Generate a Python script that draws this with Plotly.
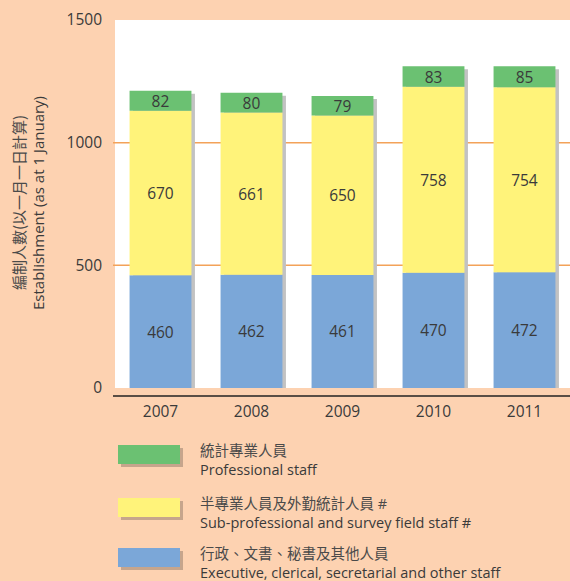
import plotly.graph_objects as go

years = ["2007", "2008", "2009", "2010", "2011"]
professional = [82, 80, 79, 83, 85]
sub_professional = [670, 661, 650, 758, 754]
executive = [460, 462, 461, 470, 472]

legend_zh = ["統計專業人員", "半專業人員及外勤統計人員 #", "行政、文書、秘書及其他人員"]
legend_en = ["Professional staff", "Sub-professional and survey field staff #",
             "Executive, clerical, secretarial and other staff"]
ytitle_zh = "編制人數(以一月一日計算)"
ytitle_en = "Establishment (as at 1 January)"

W, H = 570, 581
L, R, T, B = 115, 0, 20, 193
PW = W - L - R
PH = H - T - B
YMAX = 1500

GREEN = "#6BC172"
YELLOW = "#FFF37A"
BLUE = "#7BA7D8"
BG = "#FDD2B1"
TXT = "#3a3a3a"
FONT = "Open Sans, Noto Sans CJK TC, sans-serif"
FONT_ZH = "Noto Sans CJK TC, sans-serif"


def px_x(px):
    return (px - L) / PW


def px_y(py):
    return (H - B - py) / PH


totals = [a + b + c for a, b, c in zip(executive, sub_professional, professional)]
base_sub = executive
base_pro = [a + b for a, b in zip(executive, sub_professional)]

BW = 0.68
shadow_dx = 3.5 / (PW / len(years))
shadow_dy = 3 * YMAX / PH

fig = go.Figure()
# shadows
fig.add_trace(go.Bar(
    x=years, y=[t - shadow_dy for t in totals], base=0,
    width=BW, offset=-BW / 2 + shadow_dx,
    marker=dict(color="#C2C2C2", line=dict(width=0)),
    hoverinfo="skip", showlegend=False))

for vals, base, color in [(executive, None, BLUE),
                          (sub_professional, base_sub, YELLOW),
                          (professional, base_pro, GREEN)]:
    fig.add_trace(go.Bar(
        x=years, y=vals, base=base if base is not None else 0,
        width=BW, offset=-BW / 2,
        marker=dict(color=color, line=dict(width=0)),
        text=[str(v) for v in vals], textposition="inside",
        insidetextanchor="middle", textangle=0,
        textfont=dict(size=15.5, color=TXT, family=FONT),
        showlegend=False))

shapes = []
# x-axis line below plot
shapes.append(dict(type="line", xref="paper", yref="paper",
                   x0=px_x(113), x1=px_x(570), y0=px_y(396), y1=px_y(396),
                   line=dict(color="#222222", width=1.5)))

# legend
sw_tops = [445, 498, 548]
sw_h = 19
for i, (color, top) in enumerate(zip([GREEN, YELLOW, BLUE], sw_tops)):
    shapes.append(dict(type="rect", xref="paper", yref="paper",
                       x0=px_x(121), x1=px_x(183), y0=px_y(top + 3), y1=px_y(top + sw_h + 3),
                       fillcolor="#C6A58C", line=dict(width=0), layer="above"))
    shapes.append(dict(type="rect", xref="paper", yref="paper",
                       x0=px_x(118), x1=px_x(180), y0=px_y(top), y1=px_y(top + sw_h),
                       fillcolor=color, line=dict(width=0), layer="above"))

annotations = []
for i, top in enumerate(sw_tops):
    annotations.append(dict(xref="paper", yref="paper", x=px_x(199), y=px_y(top + 15),
                            text=f"<span style='color:#4a4a4a'>{legend_zh[i]}</span><br>{legend_en[i]}",
                            showarrow=False, xanchor="left", yanchor="middle", align="left",
                            borderpad=0,
                            font=dict(size=14.5, color=TXT, family=FONT)))

annotations.append(dict(xref="paper", yref="paper", x=px_x(18), y=px_y(203),
                        text=ytitle_zh, textangle=-90, showarrow=False,
                        xanchor="center", yanchor="middle",
                        font=dict(size=15, color="#4a4a4a", family=FONT_ZH)))
annotations.append(dict(xref="paper", yref="paper", x=px_x(38), y=px_y(203),
                        text=ytitle_en, textangle=-90, showarrow=False,
                        xanchor="center", yanchor="middle",
                        font=dict(size=15, color=TXT, family=FONT)))

fig.update_layout(
    width=W, height=H,
    margin=dict(l=L, r=R, t=T, b=B),
    paper_bgcolor=BG, plot_bgcolor="white",
    barmode="overlay",
    showlegend=False,
    uniformtext=dict(minsize=15, mode="show"),
    font=dict(family=FONT, size=15, color=TXT),
    shapes=shapes, annotations=annotations,
    xaxis=dict(showline=False, showgrid=False, zeroline=False, ticks="",
               ticklabelstandoff=12, tickfont=dict(size=15.5, color=TXT),
               range=[-0.5, 4.5]),
    yaxis=dict(range=[0, YMAX], tickvals=[0, 500, 1000, 1500],
               showgrid=False, zeroline=False, showline=False, ticks="",
               ticklabelstandoff=12, tickfont=dict(size=15.5, color=TXT)),
)

# gridlines at 500 and 1000 (orange), extending slightly left of plot
for gv in [500, 1000]:
    fig.add_shape(type="line", xref="paper", yref="y", x0=px_x(113), x1=1,
                  y0=gv, y1=gv, line=dict(color="#F3A259", width=1.5), layer="below")

fig.write_html("out.html", config={"displayModeBar": False},
               post_script="document.body.style.margin='0';document.body.style.overflow='hidden';")
